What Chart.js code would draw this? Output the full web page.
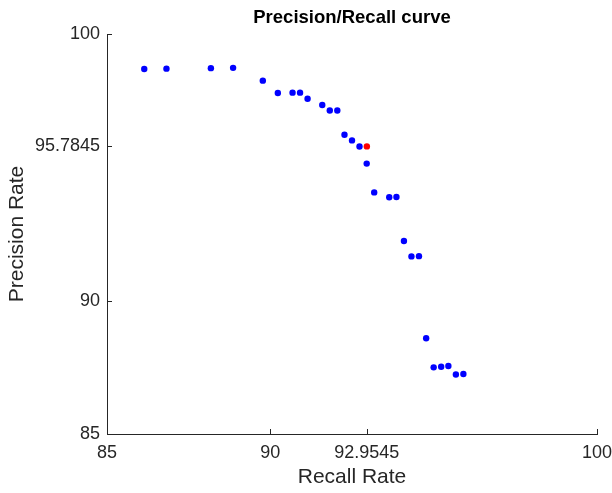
<!DOCTYPE html>
<html>
<head>
<meta charset="utf-8">
<script src="https://cdn.jsdelivr.net/npm/chart.js@4.4.1/dist/chart.umd.min.js"></script>
<style>
  html, body { margin: 0; padding: 0; background: #fff; }
  #wrap { width: 612px; height: 493px; }
</style>
</head>
<body>
<div id="wrap"><canvas id="pr"></canvas></div>
<script>
// values
const recall = [86.14, 86.82, 88.18, 88.86, 89.77, 90.23, 90.68, 90.91, 91.14, 91.59,
                91.82, 92.05, 92.27, 92.50, 92.73, 92.95, 93.18, 93.64, 93.86, 94.09,
                94.32, 94.55, 94.77, 95.00, 95.23, 95.45, 95.68, 95.91];
const precision = [98.69, 98.70, 98.72, 98.73, 98.25, 97.79, 97.80, 97.80, 97.57, 97.34,
                   97.13, 97.13, 96.22, 96.01, 95.78, 95.14, 94.06, 93.88, 93.89, 92.24,
                   91.66, 91.67, 88.59, 87.50, 87.52, 87.55, 87.23, 87.25];
const bestRecall = 92.9545;
const bestPrecision = 95.7845;
const xTicks = [85, 90, 92.9545, 100];
const yTicks = [85, 90, 95.7845, 100];

const FONT = "'Liberation Sans', Arial, Helvetica, sans-serif";
const AXIS = '#262626';

// matlab style ticks pointing into the plot
const inwardTicks = {
    id: 'inwardTicks',
    afterDraw(chart) {
        const { ctx, chartArea: a, scales: { x, y } } = chart;
        ctx.save();
        ctx.strokeStyle = AXIS;
        ctx.lineWidth = 1;
        ctx.beginPath();
        x.ticks.forEach(t => {
            const px = Math.round(x.getPixelForValue(t.value)) + 0.5;
            ctx.moveTo(px, a.bottom);
            ctx.lineTo(px, a.bottom - 5);
        });
        y.ticks.forEach(t => {
            const py = Math.round(y.getPixelForValue(t.value)) + 0.5;
            ctx.moveTo(a.left, py);
            ctx.lineTo(a.left + 5, py);
        });
        ctx.stroke();
        ctx.restore();
    }
};

const pts = recall.map((r, i) => ({ x: r, y: precision[i] }));

new Chart(document.getElementById('pr'), {
    type: 'scatter',
    data: {
        datasets: [
            {
                label: 'best',
                data: [{ x: bestRecall, y: bestPrecision }],
                backgroundColor: '#ff0000',
                borderWidth: 0,
                pointRadius: 3.2
            },
            {
                label: 'points',
                data: pts,
                backgroundColor: '#0000ff',
                borderWidth: 0,
                pointRadius: 3.2
            }
        ]
    },
    options: {
        responsive: true,
        maintainAspectRatio: false,
        animation: false,
        layout: { autoPadding: false, padding: { left: 0, right: 15, top: 0, bottom: 0 } },
        plugins: {
            legend: { display: false },
            tooltip: { enabled: false }
        },
        scales: {
            // top axis only carries the title so it is centred over the plot
            top: {
                type: 'linear',
                position: 'top',
                min: 85,
                max: 100,
                afterFit: s => { s.height = 34; },
                grid: { display: false, drawTicks: false },
                border: { display: false },
                ticks: { display: false },
                title: {
                    display: true,
                    text: 'Precision/Recall curve',
                    color: '#000',
                    font: { family: FONT, size: 18.5, weight: 'bold', lineHeight: 1.2 },
                    padding: { top: 7, bottom: 0 }
                }
            },
            x: {
                type: 'linear',
                position: 'bottom',
                min: 85,
                max: 100,
                afterBuildTicks: s => { s.ticks = xTicks.map(v => ({ value: v })); },
                afterFit: s => { s.height = 59; s.paddingLeft = 0; s.paddingRight = 0; },
                grid: { display: false, drawTicks: false },
                border: { display: true, color: AXIS, width: 1 },
                ticks: {
                    padding: 8,
                    color: AXIS,
                    maxRotation: 0,
                    autoSkip: false,
                    font: { family: FONT, size: 18 },
                    callback: v => String(v)
                },
                title: {
                    display: true,
                    text: 'Recall Rate',
                    color: AXIS,
                    font: { family: FONT, size: 21, lineHeight: 1.2 },
                    padding: { top: 0, bottom: 3 }
                }
            },
            y: {
                type: 'linear',
                min: 85,
                max: 100,
                afterBuildTicks: s => { s.ticks = yTicks.map(v => ({ value: v })); },
                afterFit: s => { s.width = 107; s.paddingTop = 0; s.paddingBottom = 0; },
                grid: { display: false, drawTicks: false },
                border: { display: true, color: AXIS, width: 1 },
                ticks: {
                    padding: 7,
                    color: AXIS,
                    autoSkip: false,
                    font: { family: FONT, size: 18 },
                    callback: v => String(v)
                },
                title: {
                    display: true,
                    text: 'Precision Rate',
                    color: AXIS,
                    font: { family: FONT, size: 21, lineHeight: 1.2 },
                    padding: { top: 5, bottom: 0 }
                }
            }
        }
    },
    plugins: [inwardTicks]
});
</script>
</body>
</html>
